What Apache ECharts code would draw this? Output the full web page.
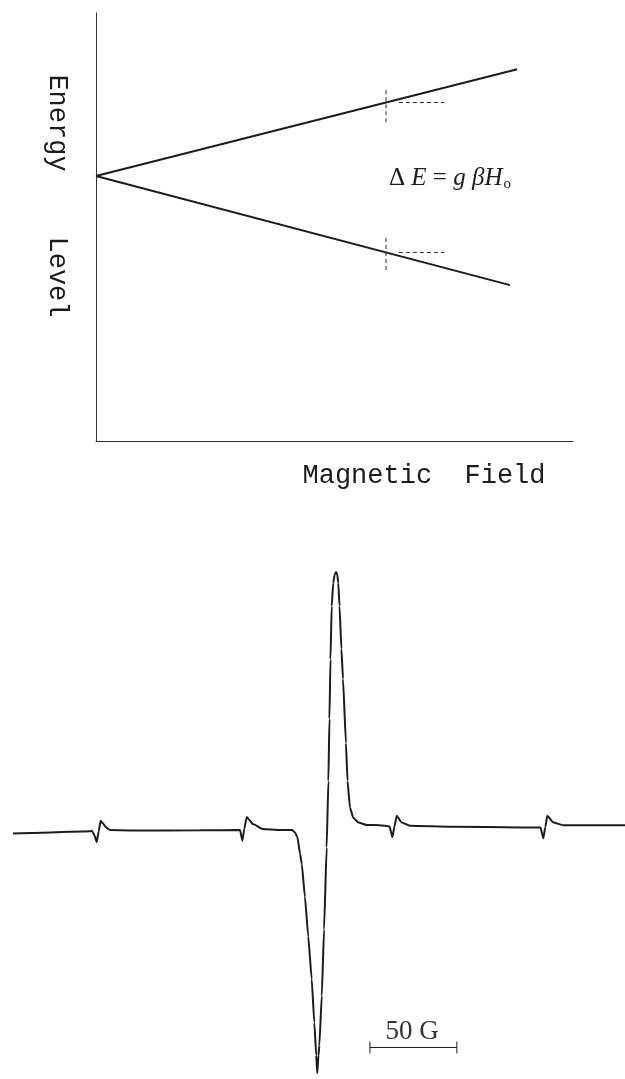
<!DOCTYPE html>
<html>
<head>
<meta charset="utf-8">
<script src="https://cdn.jsdelivr.net/npm/echarts@6/dist/echarts.min.js"></script>
<style>
  html, body { margin: 0; padding: 0; background: #fff; }
  #chart { width: 625px; height: 1079px; }
</style>
</head>
<body>
<div id="chart"></div>
<script>
// ---- Zeeman splitting diagram (field H, energy E, arbitrary units) ----
const upperLevel = [[0, 0], [8.83, 2.24]];
const lowerLevel = [[0, 0], [8.68, -2.29]];
const resonanceField = 6.08;
const upperMarkSpan = [1.80, 1.11];
const lowerMarkSpan = [-1.30, -2.01];
const guideFieldSpan = [6.35, 7.30];

// ---- EPR first-derivative spectrum (field in G, signal in % of max) ----
const spectrumField = [0, 21.3, 44.3, 45.4, 46.9, 48.1, 49.3, 50.4, 51.8, 53.5, 55.8, 67.3, 107.6,
  130.6, 131.9, 133.1, 134.4, 135.7, 138.0, 143.8, 153.6, 157.6, 160.5, 162.2, 163.6, 165.1, 166.1,
  167.9, 169.8, 171.8, 173.3, 174.4, 175.0, 175.7, 176.2, 177.6, 178.9, 180.4, 181.4, 182.0, 182.6,
  183.3, 184.2, 185.0, 185.8, 186.5, 187.1, 187.8, 188.9, 189.8, 191.5, 192.4, 193.8, 195.7, 198.6,
  203.4, 211.1, 216.6, 218.2, 219.4, 220.7, 223.6, 228.3, 253.3, 291.6, 303.4, 305.0, 306.2, 307.3,
  310.8, 316.5, 352.0];
const spectrumSignal = [-1.0, -0.6, -0.2, 0.0, -1.8, -4.4, -0.2, 3.9, 2.8, 1.3, 0.3, 0.15, 0.2,
  0.3, -3.8, 0.9, 5.4, 4.4, 2.6, 0.7, 0.3, 0.3, 0.3, -0.6, -2.5, -8.9, -12.8,
  -25.5, -40.8, -57.3, -74.1, -86.8, -93.7, -86.8, -83.0, -63.8, -38.2, -6.4, 19.3, 43.4, 66.4,
  86.9, 95.9, 99.2, 100.1, 99.2, 95.9, 86.9, 70.3, 58.8, 33.9, 19.3, 9.0, 5.1, 3.2,
  2.3, 2.2, 1.7, -2.5, 1.7, 5.8, 3.2, 2.0, 1.6, 1.3, 1.3, -2.9, 1.5, 5.8,
  3.2, 2.2, 2.2];

// scale bar: 50 G starting at this field value, drawn at this signal level
const scaleBarStart = 205.3;
const scaleBarLength = 50;
const scaleBarLevel = -83.8;
const scaleBarLabel = '50 G';

const INK = '#1c1c1c';
const MONO = '"Liberation Mono", "DejaVu Sans Mono", monospace';
const SERIF = '"Liberation Serif", "DejaVu Serif", serif';

function levelAt(line, h) {
  const [p0, p1] = line;
  return p0[1] + (p1[1] - p0[1]) * (h - p0[0]) / (p1[0] - p0[0]);
}

const upperAtRes = levelAt(upperLevel, resonanceField);
const lowerAtRes = levelAt(lowerLevel, resonanceField);

const spectrum = spectrumField.map((f, i) => [f, spectrumSignal[i]]);
const barEnd = scaleBarStart + scaleBarLength;
const tickHalf = 2.3;

const dashed = (data) => ({
  type: 'line', xAxisIndex: 0, yAxisIndex: 0, data, symbol: 'none', silent: true,
  lineStyle: { color: '#2a2a2a', width: 1, type: [4, 3] }
});
const solid = (data, idx, width) => ({
  type: 'line', xAxisIndex: idx, yAxisIndex: idx, data, symbol: 'none', silent: true,
  lineStyle: { color: INK, width }
});

const chart = echarts.init(document.getElementById('chart'), null, { renderer: 'canvas' });
chart.setOption({
  animation: false,
  backgroundColor: '#ffffff',
  grid: [
    { left: 96, top: 13, width: 477, height: 428 },
    { left: 13, top: 562, width: 612, height: 522 }
  ],
  xAxis: [
    { type: 'value', gridIndex: 0, min: 0, max: 10,
      axisLine: { show: true, onZero: false, lineStyle: { color: '#333', width: 1 } },
      axisTick: { show: false }, axisLabel: { show: false }, splitLine: { show: false } },
    { type: 'value', gridIndex: 1, min: 0, max: 352, show: false }
  ],
  yAxis: [
    { type: 'value', gridIndex: 0, min: -5.56, max: 3.42,
      axisLine: { show: true, onZero: false, lineStyle: { color: '#333', width: 1 } },
      axisTick: { show: false }, axisLabel: { show: false }, splitLine: { show: false } },
    { type: 'value', gridIndex: 1, min: -96, max: 104, show: false }
  ],
  series: [
    solid(upperLevel, 0, 2),
    solid(lowerLevel, 0, 2),
    dashed([[resonanceField, upperMarkSpan[0]], [resonanceField, upperMarkSpan[1]]]),
    dashed([[resonanceField, lowerMarkSpan[0]], [resonanceField, lowerMarkSpan[1]]]),
    dashed([[guideFieldSpan[0], upperAtRes], [guideFieldSpan[1], upperAtRes]]),
    dashed([[guideFieldSpan[0], lowerAtRes], [guideFieldSpan[1], lowerAtRes]]),
    Object.assign(solid(spectrum, 1, 2), { smooth: 0.15, smoothMonotone: 'x' }),
    solid([[scaleBarStart, scaleBarLevel], [barEnd, scaleBarLevel]], 1, 1),
    solid([[scaleBarStart, scaleBarLevel - tickHalf], [scaleBarStart, scaleBarLevel + tickHalf]], 1, 1),
    solid([[barEnd, scaleBarLevel - tickHalf], [barEnd, scaleBarLevel + tickHalf]], 1, 1)
  ],
  graphic: [
    { type: 'text', x: 57, y: 123, rotation: -Math.PI / 2,
      style: { text: 'Energy', font: '27px ' + MONO, fill: INK, align: 'center', verticalAlign: 'middle' } },
    { type: 'text', x: 57, y: 277, rotation: -Math.PI / 2,
      style: { text: 'Level', font: '27px ' + MONO, fill: INK, align: 'center', verticalAlign: 'middle' } },
    { type: 'text', x: 424, y: 476,
      style: { text: 'Magnetic  Field', font: '27px ' + MONO, fill: INK, align: 'center', verticalAlign: 'middle' } },
    { type: 'text', x: 450, y: 178,
      style: {
        text: '{r|Δ} {i|E} {r|=} {i|g} {i|β}{i|H}{s|o}',
        align: 'center', verticalAlign: 'middle', fill: INK,
        font: '25px ' + SERIF,
        rich: {
          r: { fontFamily: SERIF, fontSize: 25, fill: INK },
          i: { fontFamily: SERIF, fontSize: 25, fontStyle: 'italic', fill: INK },
          s: { fontFamily: SERIF, fontSize: 15, fill: INK, verticalAlign: 'bottom', padding: [12, 0, 0, 1] }
        }
      } },
    { type: 'text', x: 412, y: 1032,
      style: { text: scaleBarLabel, font: '27px ' + SERIF, fill: '#333', align: 'center', verticalAlign: 'middle' } }
  ]
});
</script>
</body>
</html>
